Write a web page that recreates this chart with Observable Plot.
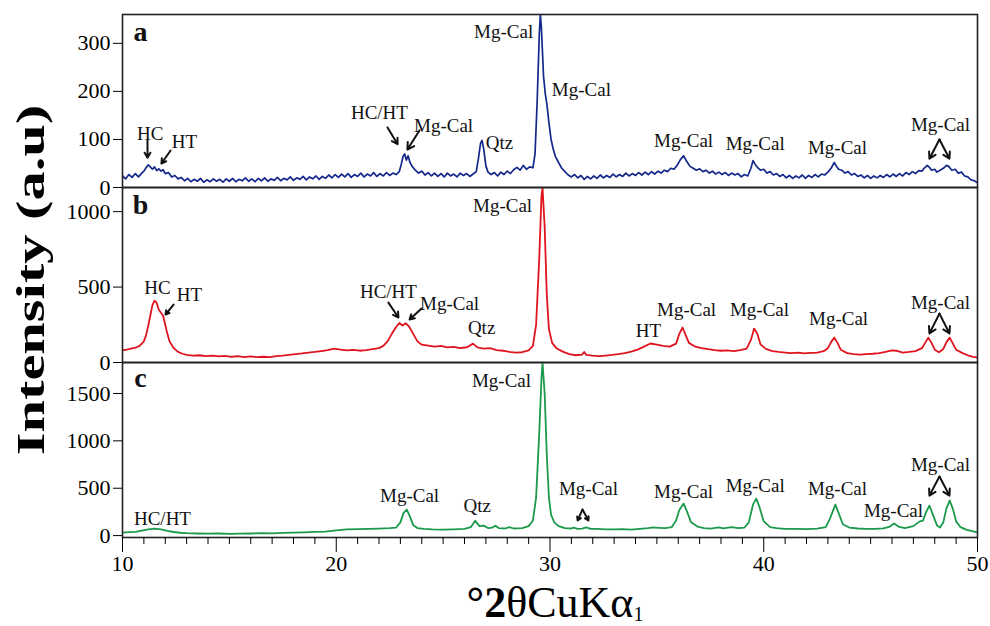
<!DOCTYPE html>
<html>
<head>
<meta charset="utf-8">
<script src="https://cdn.jsdelivr.net/npm/d3@7"></script>
<script src="https://cdn.jsdelivr.net/npm/@observablehq/plot@0.6"></script>
<style>
  html, body { margin: 0; padding: 0; background: #fff; }
  #chart { position: relative; width: 990px; height: 626px; overflow: hidden; font-family: "Liberation Serif", "Times New Roman", serif; }
  #chart svg { position: absolute; left: 0; overflow: visible; }
  #chart svg, #chart svg text { font-family: "Liberation Serif", "Times New Roman", serif !important; }
  .ytitle { position: absolute; left: 30px; top: 280px; white-space: nowrap; font: bold 40px "Liberation Serif", serif;
            transform: translate(-50%, -50%) rotate(-90deg) scale(1.46, 1); }
  .xtitle { position: absolute; left: 555px; top: 603px; white-space: nowrap; font: 44px "Liberation Serif", serif;
            line-height: 1; transform: translate(-50%, -50%); }
  .xtitle b { font-weight: bold; }
  .xtitle sub { font-size: 20px; vertical-align: -4px; line-height: 1; }
</style>
</head>
<body>
<div id="chart">
  <div class="ytitle">Intensity (a.u)</div>
  <div class="xtitle"><b>°2</b>θCuKα<sub>1</sub></div>
</div>
<script>
// ---- data (2θ in degrees, intensity in a.u.) ----
const patternA = [[10.0,24],[10.15,18],[10.3,27],[10.45,21],[10.6,29],[10.75,22],[10.9,30],[11.0,34],[11.1,41],[11.2,47],[11.3,43],[11.4,38],[11.5,43],[11.6,35],[11.7,39],[11.8,34],[11.9,37],[12.0,29],[12.15,31],[12.3,22],[12.45,25],[12.6,18],[12.75,21],[12.9,14],[13.05,19],[13.2,12],[13.35,17],[13.5,13],[13.65,19],[13.8,11],[13.95,16],[14.1,12],[14.25,18],[14.4,13],[14.55,17],[14.7,11],[14.85,18],[15.0,13],[15.15,19],[15.3,12],[15.45,17],[15.6,14],[15.75,20],[15.9,13],[16.05,18],[16.2,12],[16.35,19],[16.5,14],[16.65,20],[16.8,13],[16.95,18],[17.1,15],[17.25,21],[17.4,14],[17.55,19],[17.7,16],[17.85,22],[18.0,15],[18.15,20],[18.3,17],[18.45,23],[18.6,16],[18.75,22],[18.9,18],[19.05,24],[19.2,17],[19.35,23],[19.5,19],[19.65,26],[19.8,20],[19.95,27],[20.1,21],[20.25,28],[20.4,22],[20.55,29],[20.7,21],[20.85,27],[21.0,23],[21.15,30],[21.3,22],[21.45,28],[21.6,24],[21.75,31],[21.9,23],[22.05,29],[22.2,24],[22.35,31],[22.5,25],[22.65,30],[22.8,27],[22.95,33],[23.05,50],[23.12,64],[23.2,70],[23.28,57],[23.36,66],[23.45,52],[23.55,44],[23.7,36],[23.85,30],[24.0,34],[24.15,26],[24.3,31],[24.45,24],[24.6,30],[24.75,23],[24.9,29],[25.05,22],[25.2,30],[25.35,24],[25.5,28],[25.65,22],[25.8,30],[25.95,25],[26.1,29],[26.25,23],[26.4,28],[26.55,33],[26.65,60],[26.75,92],[26.82,98],[26.9,80],[27.0,45],[27.1,32],[27.25,27],[27.4,31],[27.55,24],[27.7,32],[27.85,27],[28.0,34],[28.15,29],[28.3,37],[28.45,42],[28.6,36],[28.75,46],[28.9,38],[29.05,43],[29.2,41],[29.3,70],[29.4,180],[29.5,320],[29.55,360],[29.6,330],[29.7,230],[29.78,195],[29.85,175],[29.95,135],[30.05,100],[30.15,80],[30.25,65],[30.4,52],[30.55,40],[30.7,33],[30.85,26],[31.0,22],[31.15,27],[31.3,20],[31.45,25],[31.6,17],[31.75,23],[31.9,18],[32.05,24],[32.2,19],[32.35,26],[32.5,20],[32.65,25],[32.8,21],[32.95,28],[33.1,22],[33.25,27],[33.4,23],[33.55,30],[33.7,24],[33.85,29],[34.0,25],[34.15,31],[34.3,26],[34.45,32],[34.6,27],[34.75,33],[34.9,28],[35.05,34],[35.2,30],[35.35,36],[35.5,33],[35.65,40],[35.8,38],[35.95,46],[36.1,58],[36.25,66],[36.4,54],[36.55,44],[36.7,40],[36.85,36],[37.0,39],[37.15,33],[37.3,36],[37.45,30],[37.6,34],[37.75,28],[37.9,32],[38.05,27],[38.2,31],[38.35,25],[38.5,30],[38.65,26],[38.8,29],[38.95,22],[39.1,27],[39.25,24],[39.4,40],[39.5,56],[39.6,48],[39.7,42],[39.85,36],[40.0,38],[40.15,30],[40.3,33],[40.45,26],[40.6,29],[40.75,23],[40.9,27],[41.05,20],[41.2,25],[41.35,19],[41.5,24],[41.65,20],[41.8,26],[41.95,19],[42.1,25],[42.25,21],[42.4,27],[42.55,22],[42.7,28],[42.85,26],[43.0,32],[43.15,40],[43.3,52],[43.4,44],[43.5,38],[43.65,36],[43.8,30],[43.95,33],[44.1,26],[44.25,29],[44.4,23],[44.55,26],[44.7,20],[44.85,25],[45.0,19],[45.15,24],[45.3,20],[45.45,25],[45.6,21],[45.75,27],[45.9,22],[46.05,28],[46.2,23],[46.35,29],[46.5,24],[46.65,31],[46.8,27],[46.95,33],[47.1,29],[47.25,35],[47.4,34],[47.5,40],[47.65,46],[47.75,42],[47.85,36],[48.0,38],[48.1,32],[48.25,36],[48.4,40],[48.55,46],[48.65,44],[48.8,36],[48.95,38],[49.1,30],[49.25,32],[49.4,24],[49.55,22],[49.7,16],[49.85,14],[50.0,10]];

const patternB = [[10.0,80],[10.2,85],[10.4,92],[10.6,98],[10.8,110],[11.0,140],[11.1,180],[11.2,240],[11.3,310],[11.4,380],[11.5,410],[11.6,395],[11.7,350],[11.8,330],[11.9,310],[12.0,250],[12.1,190],[12.2,140],[12.4,95],[12.6,70],[12.8,58],[13.0,50],[13.3,45],[13.6,48],[13.9,42],[14.2,46],[14.5,40],[14.8,44],[15.1,38],[15.4,42],[15.7,36],[16.0,40],[16.3,35],[16.6,38],[16.9,36],[17.2,42],[17.5,45],[17.8,50],[18.1,55],[18.4,60],[18.7,66],[19.0,70],[19.3,76],[19.6,82],[19.9,92],[20.2,85],[20.5,80],[20.8,84],[21.1,78],[21.4,82],[21.7,88],[22.0,95],[22.2,110],[22.4,140],[22.6,190],[22.8,235],[22.95,262],[23.1,245],[23.25,260],[23.4,240],[23.6,190],[23.8,140],[24.0,118],[24.3,112],[24.6,105],[24.9,110],[25.2,100],[25.5,104],[25.8,96],[26.1,100],[26.4,125],[26.6,100],[26.9,92],[27.2,95],[27.5,82],[27.8,78],[28.1,70],[28.4,66],[28.7,68],[29.0,80],[29.2,110],[29.35,250],[29.5,700],[29.6,1100],[29.65,1160],[29.75,900],[29.85,450],[29.95,220],[30.1,130],[30.3,95],[30.6,72],[30.9,55],[31.2,48],[31.5,52],[31.6,70],[31.7,50],[32.0,45],[32.3,42],[32.6,46],[32.9,50],[33.2,55],[33.5,62],[33.8,72],[34.1,85],[34.4,105],[34.7,126],[35.0,118],[35.3,110],[35.6,105],[35.9,125],[36.05,190],[36.2,232],[36.35,180],[36.5,130],[36.8,105],[37.1,95],[37.4,88],[37.7,82],[38.0,78],[38.3,80],[38.6,76],[38.9,82],[39.2,92],[39.4,150],[39.55,225],[39.7,190],[39.85,120],[40.1,90],[40.4,76],[40.7,70],[41.0,66],[41.3,62],[41.6,66],[41.9,60],[42.2,64],[42.5,66],[42.8,75],[43.0,95],[43.15,135],[43.3,165],[43.45,130],[43.6,85],[43.9,62],[44.2,55],[44.5,52],[44.8,56],[45.1,58],[45.4,62],[45.7,70],[46.0,80],[46.2,78],[46.5,66],[46.8,70],[47.1,75],[47.4,95],[47.55,130],[47.7,165],[47.85,130],[48.0,85],[48.2,68],[48.4,90],[48.55,135],[48.7,165],[48.85,125],[49.0,85],[49.3,62],[49.6,45],[49.8,38],[50.0,33]];

const patternC = [[10.0,32],[10.3,36],[10.6,40],[10.9,52],[11.2,65],[11.5,74],[11.8,66],[12.1,50],[12.4,38],[12.7,30],[13.0,26],[13.5,22],[14.0,20],[14.5,22],[15.0,18],[15.5,20],[16.0,22],[16.5,25],[17.0,24],[17.5,28],[18.0,32],[18.5,35],[19.0,40],[19.5,42],[20.0,55],[20.5,65],[21.0,68],[21.5,72],[22.0,74],[22.5,78],[22.8,85],[23.0,140],[23.15,240],[23.3,275],[23.45,200],[23.6,110],[23.8,80],[24.1,70],[24.5,65],[25.0,63],[25.5,66],[26.0,70],[26.3,90],[26.5,158],[26.7,100],[26.9,105],[27.1,80],[27.3,85],[27.45,105],[27.6,80],[27.9,75],[28.1,90],[28.3,75],[28.7,80],[29.0,100],[29.2,160],[29.35,400],[29.5,1100],[29.6,1650],[29.65,1827],[29.75,1500],[29.85,850],[29.95,400],[30.05,220],[30.2,140],[30.4,100],[30.7,80],[31.0,75],[31.1,84],[31.3,72],[31.5,74],[31.7,86],[31.9,72],[32.2,70],[32.6,66],[33.0,65],[33.4,68],[33.8,64],[34.2,72],[34.6,80],[34.8,86],[35.1,82],[35.4,78],[35.7,90],[35.9,160],[36.05,270],[36.25,338],[36.4,260],[36.6,140],[36.9,95],[37.2,80],[37.5,74],[37.9,86],[38.1,76],[38.5,90],[38.8,80],[39.1,85],[39.3,140],[39.5,330],[39.65,390],[39.8,300],[40.0,150],[40.3,90],[40.6,78],[41.0,72],[41.5,70],[42.0,68],[42.5,74],[42.9,90],[43.1,180],[43.35,327],[43.5,240],[43.7,120],[44.0,85],[44.4,75],[44.8,72],[45.2,70],[45.6,76],[45.9,95],[46.1,127],[46.3,95],[46.6,80],[47.0,100],[47.3,150],[47.45,158],[47.6,250],[47.75,317],[47.9,230],[48.1,110],[48.25,84],[48.4,140],[48.55,290],[48.7,370],[48.85,280],[49.0,150],[49.2,90],[49.5,60],[49.8,45],[50.0,32]];

// ---- axes / ticks ----
const xDomain = [10, 50];
const xTicks = [10, 20, 30, 40, 50];
const xMinorTicks = [11,12,13,14,15,16,17,18,19,21,22,23,24,25,26,27,28,29,31,32,33,34,35,36,37,38,39,41,42,43,44,45,46,47,48,49];
const yTicksA = [0, 100, 200, 300];
const yTicksB = [0, 500, 1000];
const yTicksC = [0, 500, 1000, 1500];
const yDomainA = [0, 360];
const yDomainB = [0, 1160];
const yDomainC = [-20, 1827];

// ---- annotations ----
const panelLetters = [
  {x: 10.84, y: 323, text: "a"},
  {x: 10.84, y: 1046, text: "b"},
  {x: 10.84, y: 1668, text: "c"}
];
const labelsA = [
  {x: 11.3, y: 112, text: "HC"}, {x: 12.9, y: 94, text: "HT"},
  {x: 22.02, y: 156, text: "HC/HT"}, {x: 25.02, y: 129, text: "Mg-Cal"},
  {x: 27.64, y: 92, text: "Qtz"}, {x: 27.83, y: 323, text: "Mg-Cal"},
  {x: 31.47, y: 203, text: "Mg-Cal"}, {x: 36.25, y: 96, text: "Mg-Cal"},
  {x: 39.6, y: 90, text: "Mg-Cal"}, {x: 43.45, y: 83, text: "Mg-Cal"},
  {x: 48.27, y: 131, text: "Mg-Cal"}
];
const arrowsA = [
  {x1: 11.17, y1: 98, x2: 11.17, y2: 62}, {x1: 12.25, y1: 77, x2: 11.82, y2: 50},
  {x1: 22.4, y1: 125, x2: 22.87, y2: 90}, {x1: 23.9, y1: 119, x2: 23.33, y2: 79},
  {x1: 48.22, y1: 100, x2: 47.75, y2: 60}, {x1: 48.22, y1: 100, x2: 48.69, y2: 60}
];
const labelsB = [
  {x: 11.64, y: 497, text: "HC"}, {x: 13.13, y: 450, text: "HT"},
  {x: 22.44, y: 470, text: "HC/HT"}, {x: 25.3, y: 391, text: "Mg-Cal"},
  {x: 26.8, y: 232, text: "Qtz"}, {x: 27.78, y: 1040, text: "Mg-Cal"},
  {x: 34.6, y: 212, text: "HT"}, {x: 36.39, y: 351, text: "Mg-Cal"},
  {x: 39.8, y: 351, text: "Mg-Cal"}, {x: 43.5, y: 291, text: "Mg-Cal"},
  {x: 48.27, y: 397, text: "Mg-Cal"}
];
const arrowsB = [
  {x1: 12.39, y1: 384, x2: 12.01, y2: 318},
  {x1: 22.44, y1: 397, x2: 22.91, y2: 298}, {x1: 23.99, y1: 358, x2: 23.43, y2: 285},
  {x1: 48.22, y1: 324, x2: 47.75, y2: 192}, {x1: 48.22, y1: 324, x2: 48.69, y2: 192}
];
const labelsC = [
  {x: 11.87, y: 180, text: "HC/HT"}, {x: 23.43, y: 422, text: "Mg-Cal"},
  {x: 26.6, y: 317, text: "Qtz"}, {x: 27.73, y: 1637, text: "Mg-Cal"},
  {x: 31.8, y: 496, text: "Mg-Cal"}, {x: 36.25, y: 465, text: "Mg-Cal"},
  {x: 39.6, y: 528, text: "Mg-Cal"}, {x: 43.45, y: 496, text: "Mg-Cal"},
  {x: 46.07, y: 264, text: "Mg-Cal"}, {x: 48.27, y: 750, text: "Mg-Cal"}
];
const arrowsC = [
  {x1: 31.52, y1: 275, x2: 31.29, y2: 160}, {x1: 31.52, y1: 275, x2: 31.8, y2: 160},
  {x1: 48.22, y1: 623, x2: 47.75, y2: 422}, {x1: 48.22, y1: 623, x2: 48.69, y2: 422}
];

const colors = {a: "#14288c", b: "#e0141e", c: "#1a9a4a"};
const fmt = d3.format("d");
const serif = "'Liberation Serif', 'Times New Roman', serif";

function panel({data, color, width: sw, yDomain, yTicks, labels, arrows, letter, height, bottom}) {
  const marks = [
    Plot.line(data, {x: d => d[0], y: d => d[1], stroke: color, strokeWidth: sw, clip: true}),
    Plot.frame({stroke: "#222", strokeWidth: 1.6}),
    Plot.axisY(yTicks, {tickSize: 9, tickPadding: 3, fontSize: 22, tickFormat: fmt, label: null}),
    Plot.text(labels, {x: "x", y: "y", text: "text", fontSize: 19, fill: "#111"}),
    Plot.arrow(arrows, {x1: "x1", y1: "y1", x2: "x2", y2: "y2", stroke: "#111", strokeWidth: 2, headLength: 7}),
    Plot.text([letter], {x: "x", y: "y", text: "text", fontSize: 28, fontWeight: "bold", fill: "#111"})
  ];
  if (bottom) {
    marks.push(Plot.axisX(xMinorTicks, {tickSize: 7, tickFormat: () => "", label: null}));
    marks.push(Plot.axisX(xTicks, {tickSize: 15, tickPadding: 3, fontSize: 22, tickFormat: fmt, label: null}));
  }
  const svg = Plot.plot({
    width: 990,
    height,
    marginLeft: 122,
    marginRight: 13,
    marginTop: 0,
    marginBottom: bottom ? 40 : 0,
    style: {fontFamily: serif, fontSize: "22px", overflow: "visible", background: "transparent"},
    x: {domain: xDomain, axis: bottom ? undefined : null},
    y: {domain: yDomain},
    marks
  });
  svg.setAttribute("font-family", serif);
  svg.querySelectorAll("g, text").forEach(el => {
    if (el.hasAttribute("font-family")) el.setAttribute("font-family", serif);
    el.style.fontFamily = serif;
  });
  return svg;
}

const chart = document.getElementById("chart");
const a = panel({data: patternA, color: colors.a, width: 1.7, yDomain: yDomainA, yTicks: yTicksA, labels: labelsA, arrows: arrowsA, letter: panelLetters[0], height: 173, bottom: false});
const b = panel({data: patternB, color: colors.b, width: 1.8, yDomain: yDomainB, yTicks: yTicksB, labels: labelsB, arrows: arrowsB, letter: panelLetters[1], height: 175, bottom: false});
const c = panel({data: patternC, color: colors.c, width: 1.8, yDomain: yDomainC, yTicks: yTicksC, labels: labelsC, arrows: arrowsC, letter: panelLetters[2], height: 215, bottom: true});
a.style.top = "14px";
b.style.top = "187px";
c.style.top = "362px";
chart.appendChild(a);
chart.appendChild(b);
chart.appendChild(c);
</script>
</body>
</html>
